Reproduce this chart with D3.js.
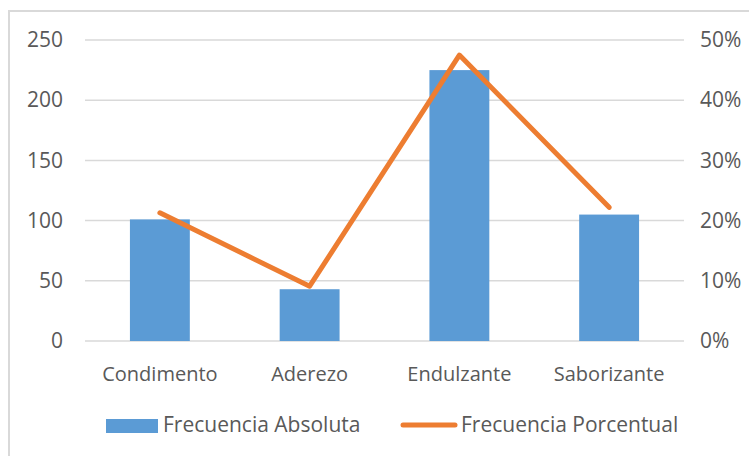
<!DOCTYPE html>
<html>
<head>
<meta charset="utf-8">
<script src="https://cdn.jsdelivr.net/npm/d3@7"></script>
<style>
  body { margin: 0; background: #fff; }
  svg text { font-family: "Open Sans", "Noto Sans", sans-serif; fill: #595959; }
</style>
</head>
<body>
<div id="chart"></div>
<script>
// data
const categories = ["Condimento", "Aderezo", "Endulzante", "Saborizante"];
const absoluta = [101, 43, 225, 105];
const porcentual = [21.3, 9.1, 47.5, 22.2];
const leftTicks = [0, 50, 100, 150, 200, 250];
const rightTicks = [0, 10, 20, 30, 40, 50];
const seriesNames = ["Frecuencia Absoluta", "Frecuencia Porcentual"];

const width = 749, height = 456;
const margin = { top: 40, right: 65, bottom: 115, left: 85 };

const svg = d3.select("#chart").append("svg")
  .attr("width", width)
  .attr("height", height);

// outer chart border
svg.append("rect")
  .attr("x", 9).attr("y", 11)
  .attr("width", width).attr("height", height)
  .attr("fill", "none")
  .attr("stroke", "#d9d9d9")
  .attr("stroke-width", 2);

const x = d3.scaleBand()
  .domain(categories)
  .range([margin.left, width - margin.right])
  .paddingInner(0.6)
  .paddingOuter(0.3);

const y = d3.scaleLinear()
  .domain([0, 250])
  .range([height - margin.bottom, margin.top]);

const y2 = d3.scaleLinear()
  .domain([0, 50])
  .range([height - margin.bottom, margin.top]);

// gridlines
svg.append("g")
  .selectAll("line")
  .data(leftTicks)
  .join("line")
  .attr("x1", margin.left)
  .attr("x2", width - margin.right)
  .attr("y1", d => y(d))
  .attr("y2", d => y(d))
  .attr("stroke", "#d9d9d9")
  .attr("stroke-width", 1.5);

// left axis
const yAxis = svg.append("g")
  .attr("transform", `translate(${margin.left},0)`)
  .call(d3.axisLeft(y).tickValues(leftTicks).tickSize(0).tickPadding(22));
yAxis.select(".domain").remove();
yAxis.selectAll("text").attr("font-size", 21).attr("font-family", null);

// right axis
const y2Axis = svg.append("g")
  .attr("transform", `translate(${width - margin.right},0)`)
  .call(d3.axisRight(y2).tickValues(rightTicks).tickSize(0).tickPadding(16)
    .tickFormat(d => d + "%"));
y2Axis.select(".domain").remove();
y2Axis.selectAll("text").attr("font-size", 21).attr("font-family", null);

// category axis
const xAxis = svg.append("g")
  .attr("transform", `translate(0,${height - margin.bottom})`)
  .call(d3.axisBottom(x).tickSize(0).tickPadding(26));
xAxis.select(".domain").remove();
xAxis.selectAll("text").attr("font-size", 20).attr("font-family", null);

// bars
svg.append("g")
  .selectAll("rect")
  .data(categories)
  .join("rect")
  .attr("x", d => x(d))
  .attr("width", x.bandwidth())
  .attr("y", (d, i) => y(absoluta[i]))
  .attr("height", (d, i) => y(0) - y(absoluta[i]))
  .attr("fill", "#5b9bd5");

// line
const line = d3.line()
  .x((d, i) => x(categories[i]) + x.bandwidth() / 2)
  .y(d => y2(d));

svg.append("path")
  .datum(porcentual)
  .attr("d", line)
  .attr("fill", "none")
  .attr("stroke", "#ed7d31")
  .attr("stroke-width", 5)
  .attr("stroke-linecap", "round")
  .attr("stroke-linejoin", "round");

// legend
const legend = svg.append("g");
legend.append("rect")
  .attr("x", 106).attr("y", 419)
  .attr("width", 52).attr("height", 14)
  .attr("fill", "#5b9bd5");
legend.append("text")
  .attr("x", 163).attr("y", 432)
  .attr("font-size", 21)
  .text(seriesNames[0]);
legend.append("line")
  .attr("x1", 403).attr("x2", 455)
  .attr("y1", 425).attr("y2", 425)
  .attr("stroke", "#ed7d31")
  .attr("stroke-width", 5)
  .attr("stroke-linecap", "round");
legend.append("text")
  .attr("x", 461).attr("y", 432)
  .attr("font-size", 21)
  .text(seriesNames[1]);
</script>
</body>
</html>
